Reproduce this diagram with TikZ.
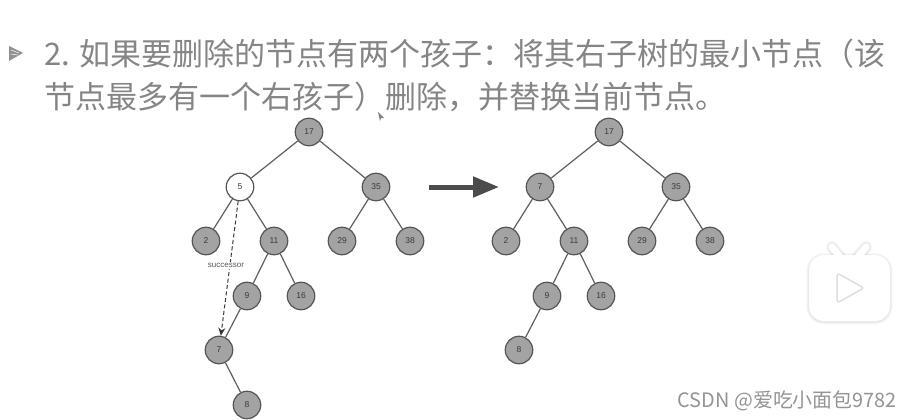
\documentclass[tikz,border=0pt]{standalone}
\usepackage{fontspec}
\setmainfont{Liberation Sans}
\newfontfamily\cjk{Noto Sans CJK SC}
\usetikzlibrary{arrows.meta}
\definecolor{headtxt}{HTML}{858585}
\definecolor{nodefill}{HTML}{A3A3A3}
\definecolor{nodeline}{HTML}{555555}
\definecolor{edgeline}{HTML}{5E5E5E}
\definecolor{labeltxt}{HTML}{3A3A3A}
\tikzset{
  tn/.style={circle,draw=nodeline,line width=1.2pt,fill=nodefill,minimum size=27.5pt,inner sep=0pt,text=labeltxt,font=\fontsize{8.5}{9}\selectfont},
  wn/.style={tn,fill=white},
  edge/.style={draw=edgeline,line width=1.2pt},
  heading/.style={anchor=west,inner sep=0pt,text=headtxt,font=\cjk\fontsize{31}{33}\selectfont},
}
\begin{document}
\begin{tikzpicture}[x=1pt,y=-1pt]
\useasboundingbox (0,0) rectangle (911,420);
\fill[white] (0,0) rectangle (911,420);
% bullet
\fill[headtxt!90] (9,46) -- (23,53) -- (9,61) -- cycle;
\draw[white,line width=.5pt] (11,50) -- (19,53) (10.5,54) -- (18,55);
% heading
\node[heading] (h1) at (44,54) {2. 如果要删除的节点有两个孩子：将其右子树的最小节点（该};
\node[heading] (h2) at (44,97) {节点最多有一个右孩子）删除，并替换当前节点。};
% cursor
\fill[gray] (378,112) -- (384,118) -- (381,118) -- (380,121) -- cycle;
% left tree
\node[tn] (a17) at (309,132) {17};
\node[wn] (a5) at (240,187) {5};
\node[tn] (a35) at (376,187) {35};
\node[tn] (a2) at (206,241) {2};
\node[tn] (a11) at (274,241) {11};
\node[tn] (a29) at (342,241) {29};
\node[tn] (a38) at (410,241) {38};
\node[tn] (a9) at (247,296) {9};
\node[tn] (a16) at (301,296) {16};
\node[tn] (a7) at (219,350) {7};
\node[tn] (a8) at (247,405) {8};
\foreach \p/\c in {a17/a5,a17/a35,a5/a2,a5/a11,a35/a29,a35/a38,a11/a9,a11/a16,a9/a7,a7/a8}
  \draw[edge] (\p) -- (\c);
\draw[edgeline!60!black,line width=1pt,dash pattern=on 4pt off 2.5pt,-{Stealth[length=8pt,width=7pt]}] (a5) -- (a7);
\node[fill=white,inner sep=1.5pt,text=labeltxt!85,font=\fontsize{8}{9}\selectfont] (succ) at (226,265.5) {successor};
% big arrow
\coordinate (arrS) at (429,187);
\coordinate (arrE) at (499,187);
\draw[nodeline!90!black,line width=5pt,-{Triangle[length=26pt,width=20pt]}] (arrS) -- (arrE);
% right tree
\node[tn] (b17) at (609,132) {17};
\node[tn] (b7) at (540,187) {7};
\node[tn] (b35) at (676,187) {35};
\node[tn] (b2) at (506,241) {2};
\node[tn] (b11) at (574,241) {11};
\node[tn] (b29) at (642,241) {29};
\node[tn] (b38) at (710,241) {38};
\node[tn] (b9) at (547,296) {9};
\node[tn] (b16) at (601,296) {16};
\node[tn] (b8) at (519,350) {8};
\foreach \p/\c in {b17/b7,b17/b35,b7/b2,b7/b11,b35/b29,b35/b38,b11/b9,b11/b16,b9/b8}
  \draw[edge] (\p) -- (\c);
% player icon
\foreach \o/\w in {.025/6,.03/4,.035/2}{
  \draw[black,opacity=\o,line width=\w pt,rounded corners=15pt] (809,256) rectangle (890,321.5);
  \draw[black,opacity=\o,line width=\w pt+7pt,line cap=round] (832,247) -- (841,258) (866,247) -- (857,258);
}
\fill[white,rounded corners=15pt] (809,255) rectangle (890,321);
\draw[white,line width=7pt,line cap=round] (832,247) -- (841,258) (866,247) -- (857,258);
\draw[black!13,line width=1.5pt,fill=white,rounded corners=3pt,line join=round] (837,273) -- (864,288) -- (837,303) -- cycle;
% watermark
\node[anchor=east,inner sep=0pt,text=black!42,font=\cjk\fontsize{19.9}{21}\selectfont] (mark) at (897,401) {CSDN @爱吃小面包9782};
\end{tikzpicture}
\end{document}
